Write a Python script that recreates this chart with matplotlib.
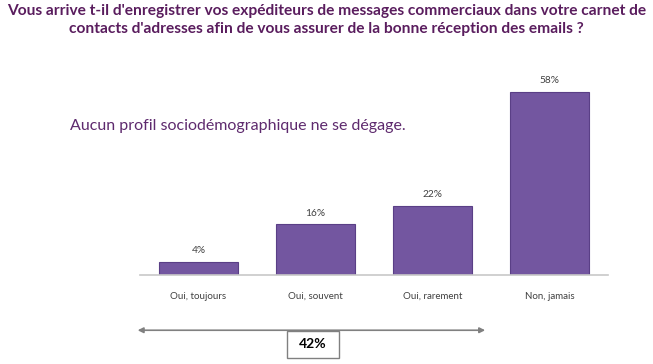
import matplotlib.pyplot as plt
from matplotlib.patches import Rectangle

categories = ['Oui, toujours', 'Oui, souvent', 'Oui, rarement', 'Non, jamais']
values = [4, 16, 22, 58]
value_labels = ['4%', '16%', '22%', '58%']
total_oui = '42%'

title = ("Vous arrive t-il d'enregistrer vos expéditeurs de messages commerciaux dans votre carnet de\n"
         "contacts d'adresses afin de vous assurer de la bonne réception des emails ?")
note = 'Aucun profil sociodémographique ne se dégage.'

fig = plt.figure(figsize=(6.53, 3.64), dpi=100)
ax = fig.add_axes([0.2144, 0.2445, 0.7167, 0.607])

x = range(len(categories))
ax.bar(x, values, width=0.675, color='#7356a0', edgecolor='#5a3f86', linewidth=0.8)
for i, v in enumerate(values):
    ax.text(i, v + 2.2, value_labels[i], ha='center', va='bottom', fontsize=7.3,
            color='#404040', family='Lato')

ax.set_xlim(-0.5, 3.5)
ax.set_ylim(0, 70)
ax.set_xticks(list(x))
ax.set_xticklabels(categories, fontsize=7, color='#404040', family='Lato')
ax.tick_params(axis='x', length=0, pad=12)
ax.set_yticks([])
for s in ['top', 'right', 'left']:
    ax.spines[s].set_visible(False)
ax.spines['bottom'].set_color('#c8c8c8')
ax.spines['bottom'].set_linewidth(1.2)

# bracket arrow covering the "Oui" answers
ax.annotate('', xy=(-0.52, -17.5), xytext=(2.45, -17.5), xycoords='data',
            arrowprops=dict(arrowstyle='<|-|>', color='#808080', lw=1.2,
                            mutation_scale=8, shrinkA=0, shrinkB=0),
            annotation_clip=False)
fig.patches.append(Rectangle((287 / 653, 6 / 364), 52 / 653, 27 / 364,
                             transform=fig.transFigure, fc='white', ec='#808080', lw=1.0))
fig.text(313 / 653, 19.5 / 364, total_oui, ha='center', va='center', fontsize=10,
         fontweight='bold', family='Lato', color='black')

fig.text(0.5, 0.99, title, ha='center', va='top', fontsize=11.2, fontweight='bold',
         color='#5a1d5e', family='Lato', linespacing=1.4)
fig.text(0.107, 0.655, note, ha='left', va='center', fontsize=11.5,
         color='#5e2a6e', family='Lato')

fig.savefig('out.png', dpi=100)
